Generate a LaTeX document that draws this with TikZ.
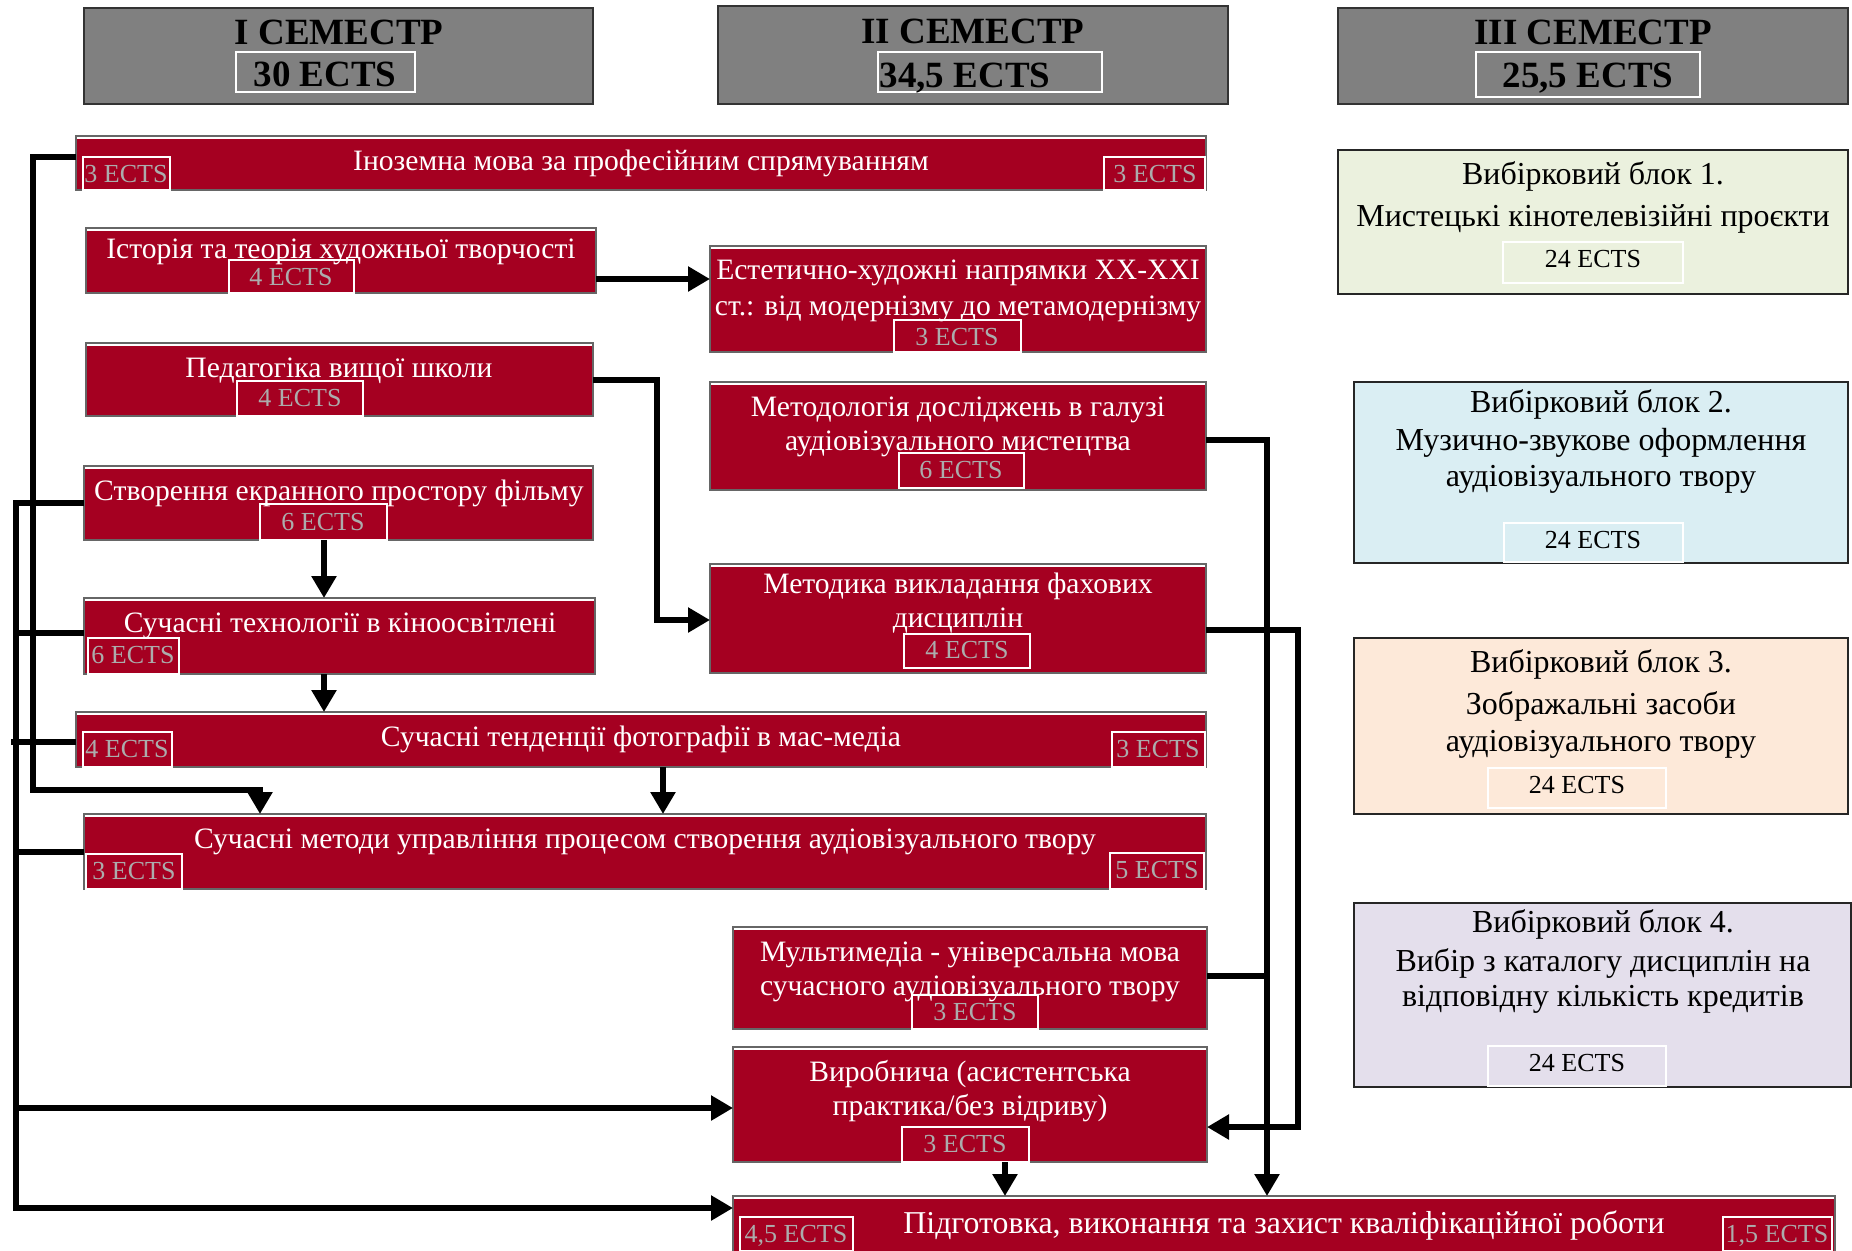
\documentclass[tikz,border=0pt]{standalone}
\usepackage{fontspec}
\setmainfont{Liberation Serif}
\usetikzlibrary{arrows.meta,fit}
\definecolor{bred}{RGB}{165,0,33}
\definecolor{hgray}{RGB}{128,128,128}
\definecolor{egray}{RGB}{172,172,172}
\definecolor{bgreen}{RGB}{235,241,222}
\definecolor{bblue}{RGB}{218,238,243}
\definecolor{bpeach}{RGB}{253,233,217}
\definecolor{blav}{RGB}{228,223,236}
\begin{document}
\begin{tikzpicture}[x=0.5pt,y=-0.5pt,
  redbox/.style={rectangle, draw=black!60, line width=0.6pt, fill=bred, inner sep=0pt, outer sep=0pt,
    path picture={\fill[white] (path picture bounding box.north west) rectangle ([yshift=-1.6pt]path picture bounding box.north east);}},
  hdrbox/.style={rectangle, draw=black!80, line width=0.6pt, fill=hgray, inner sep=0pt, outer sep=0pt},
  wbox/.style={rectangle, draw=white, line width=0.6pt, inner sep=0pt, outer sep=0pt},
  hdrtxt/.style={inner sep=0pt, font=\fontsize{18.5}{22}\selectfont\bfseries, text height=12.2pt, text depth=0pt},
  elect/.style={rectangle, draw=black!85, line width=0.6pt, inner sep=0pt, outer sep=0pt},
  etxt/.style={inner sep=0pt, font=\fontsize{16}{19}\selectfont, text height=9.6pt, text depth=0pt},
  eects/.style={inner sep=0pt, font=\fontsize{13}{15}\selectfont, text height=8.6pt, text depth=0pt},
  rtxt/.style={inner sep=0pt, text=white, font=\fontsize{14.8}{18}\selectfont, text height=11pt, text depth=0pt},
  ects/.style={inner sep=0pt, text=egray, font=\fontsize{13}{15}\selectfont, text height=8.6pt, text depth=0pt},
  conn/.style={line width=3pt, -{Triangle[length=11pt,width=12pt]}},
  link/.style={line width=3pt}
]
\useasboundingbox (0,0) rectangle (1852,1250);

% ---------- headers ----------
\node[hdrbox, fit={(84,8) (593,104)}] (h1) {};
\node[wbox, fit={(236,52) (415,92)}] (h1w) {};
\node[hdrtxt] (h1t) at (339,32) {I СЕМЕСТР};
\node[hdrtxt] (h1e) at (325,74) {30 ECTS};

\node[hdrbox, fit={(718,6) (1228,104)}] (h2) {};
\node[wbox, fit={(878,52) (1102,92)}] (h2w) {};
\node[hdrtxt] (h2t) at (973,31) {II СЕМЕСТР};
\node[hdrtxt] (h2e) at (965,75) {34,5 ECTS};

\node[hdrbox, fit={(1338,8) (1848,104)}] (h3) {};
\node[wbox, fit={(1476,52) (1700,97)}] (h3w) {};
\node[hdrtxt] (h3t) at (1593,32) {III СЕМЕСТР};
\node[hdrtxt] (h3e) at (1588,75) {25,5 ECTS};

% ---------- red boxes ----------
\node[redbox, fit={(76,136) (1206,190)}] (r1) {};
\node[rtxt] (r1t) at (641,159) {Іноземна мова за професійним спрямуванням};
\node[wbox, fit={(83,157) (170,190)}] (r1lw) {};
\node[ects] (r1l) at (126,174) {3 ECTS};
\node[wbox, fit={(1104,157) (1205,190)}] (r1rw) {};
\node[ects] (r1r) at (1155,174) {3 ECTS};

\node[redbox, fit={(86,228) (596,293)}] (r2) {};
\node[rtxt] (r2t) at (341,247) {Історія та теорія художньої творчості};
\node[wbox, fit={(229,260) (354,293)}] (r2w) {};
\node[ects] (r2e) at (291,277) {4 ECTS};

\node[redbox, fit={(710,246) (1206,352)}] (r3) {};
\node[rtxt] (r3a) at (958,268) {Естетично-художні напрямки XX-XXI};
\node[rtxt] (r3b) at (958,304) {ст.: від модернізму до метамодернізму};
\node[wbox, fit={(894,320) (1021,352)}] (r3w) {};
\node[ects] (r3e) at (957,337) {3 ECTS};

\node[redbox, fit={(86,343) (593,416)}] (r4) {};
\node[rtxt] (r4t) at (339,366) {Педагогіка вищої школи};
\node[wbox, fit={(237,381) (363,416)}] (r4w) {};
\node[ects] (r4e) at (300,398) {4 ECTS};

\node[redbox, fit={(710,382) (1206,490)}] (r5) {};
\node[rtxt] (r5a) at (958,405) {Методологія досліджень в галузі};
\node[rtxt] (r5b) at (958,439) {аудіовізуального мистецтва};
\node[wbox, fit={(899,453) (1024,488)}] (r5w) {};
\node[ects] (r5e) at (961,470) {6 ECTS};

\node[redbox, fit={(84,466) (593,540)}] (r6) {};
\node[rtxt] (r6t) at (339,489) {Створення екранного простору фільму};
\node[wbox, fit={(260,504) (387,540)}] (r6w) {};
\node[ects] (r6e) at (323,522) {6 ECTS};

\node[redbox, fit={(710,564) (1206,673)}] (r7) {};
\node[rtxt] (r7a) at (958,582) {Методика викладання фахових};
\node[rtxt] (r7b) at (958,616) {дисциплін};
\node[wbox, fit={(904,634) (1030,668)}] (r7w) {};
\node[ects] (r7e) at (967,650) {4 ECTS};

\node[redbox, fit={(84,598) (595,674)}] (r8) {};
\node[rtxt] (r8t) at (340,621) {Сучасні технології в кіноосвітлені};
\node[wbox, fit={(88,638) (179,674)}] (r8w) {};
\node[ects] (r8e) at (133,655) {6 ECTS};

\node[redbox, fit={(76,712) (1206,767)}] (r9) {};
\node[rtxt] (r9t) at (641,735) {Сучасні тенденції фотографії в мас-медіа};
\node[wbox, fit={(83,732) (172,767)}] (r9lw) {};
\node[ects] (r9l) at (127,749) {4 ECTS};
\node[wbox, fit={(1112,732) (1205,767)}] (r9rw) {};
\node[ects] (r9r) at (1158,749) {3 ECTS};

\node[redbox, fit={(84,814) (1206,889)}] (r10) {};
\node[rtxt] (r10t) at (645,837) {Сучасні методи управління процесом створення аудіовізуального твору};
\node[wbox, fit={(86,854) (182,889)}] (r10lw) {};
\node[ects] (r10l) at (134,871) {3 ECTS};
\node[wbox, fit={(1110,853) (1204,889)}] (r10rw) {};
\node[ects] (r10r) at (1157,870) {5 ECTS};

\node[redbox, fit={(733,927) (1207,1029)}] (r11) {};
\node[rtxt] (r11a) at (970,950) {Мультимедіа - універсальна мова};
\node[rtxt] (r11b) at (970,984) {сучасного аудіовізуального твору};
\node[wbox, fit={(912,995) (1038,1029)}] (r11w) {};
\node[ects] (r11e) at (975,1012) {3 ECTS};

\node[redbox, fit={(733,1047) (1207,1162)}] (r12) {};
\node[rtxt] (r12a) at (970,1070) {Виробнича (асистентська};
\node[rtxt] (r12b) at (970,1104) {практика/без відриву)};
\node[wbox, fit={(902,1127) (1029,1162)}] (r12w) {};
\node[ects] (r12e) at (965,1144) {3 ECTS};

\node[redbox, fit={(733,1196) (1835,1252)}] (r13) {};
\node[rtxt, font=\fontsize{15.9}{19}\selectfont, text height=11.6pt] (r13t) at (1284,1222) {Підготовка, виконання та захист кваліфікаційної роботи};
\node[wbox, fit={(740,1217) (853,1251)}] (r13lw) {};
\node[ects] (r13l) at (796,1234) {4,5 ECTS};
\node[wbox, fit={(1723,1217) (1832,1251)}] (r13rw) {};
\node[ects] (r13r) at (1777,1234) {1,5 ECTS};

% ---------- elective blocks ----------
\node[elect, fill=bgreen, fit={(1338,150) (1848,294)}] (b1) {};
\node[etxt] (b1a) at (1593,175) {Вибірковий блок 1.};
\node[etxt] (b1b) at (1593,217) {Мистецькі кінотелевізійні проєкти};
\node[wbox, fit={(1503,242) (1683,283)}] (b1w) {};
\node[eects] (b1e) at (1593,259) {24 ECTS};

\node[elect, fill=bblue, fit={(1354,382) (1848,563)}] (b2) {};
\node[etxt] (b2a) at (1601,403) {Вибірковий блок 2.};
\node[etxt] (b2b) at (1601,441) {Музично-звукове оформлення};
\node[etxt] (b2c) at (1601,477) {аудіовізуального твору};
\node[wbox, fit={(1504,523) (1683,562)}] (b2w) {};
\node[eects] (b2e) at (1593,540) {24 ECTS};

\node[elect, fill=bpeach, fit={(1354,638) (1848,814)}] (b3) {};
\node[etxt] (b3a) at (1601,663) {Вибірковий блок 3.};
\node[etxt] (b3b) at (1601,705) {Зображальні засоби};
\node[etxt] (b3c) at (1601,742) {аудіовізуального твору};
\node[wbox, fit={(1488,768) (1666,808)}] (b3w) {};
\node[eects] (b3e) at (1577,785) {24 ECTS};

\node[elect, fill=blav, fit={(1354,903) (1851,1087)}] (b4) {};
\node[etxt] (b4a) at (1603,923) {Вибірковий блок 4.};
\node[etxt] (b4b) at (1603,962) {Вибір з каталогу дисциплін на};
\node[etxt] (b4c) at (1603,997) {відповідну кількість кредитів};
\node[wbox, fit={(1488,1046) (1666,1086)}] (b4w) {};
\node[eects] (b4e) at (1577,1063) {24 ECTS};

% ---------- connectors ----------
% left line A
\draw[conn] (r1.west |- 0,157) -| (33,790) -| (r10.north -| 260,0);
% left line B
\draw[conn] (r6.west |- 0,503) -| (16,1208) -- (r13.west |- 0,1208);
\draw[conn] (16,1108) -- (r12.west |- 0,1108);
\draw[link] (16,633) -- (r8.west |- 0,633);
\draw[link] (11,742) -- (r9.west |- 0,742);
\draw[link] (16,852) -- (r10.west |- 0,852);
% vertical chain
\draw[conn] (r6.south -| 324,0) -- (r8.north -| 324,0);
\draw[conn] (r8.south -| 324,0) -- (r9.north -| 324,0);
\draw[conn] (r9.south -| 663,0) -- (r10.north -| 663,0);
% to second column
\draw[conn] (r2.east |- 0,279) -- (r3.west |- 0,279);
\draw[conn] (r4.east |- 0,380) -| (657,620) -- (r7.west |- 0,620);
% right side
\draw[conn] (r5.east |- 0,440) -| (r13.north -| 1267,0);
\draw[link] (r11.east |- 0,976) -- (1267,976);
\draw[conn] (r7.east |- 0,630) -| (1298,1127) -- (r12.east |- 0,1127);
\draw[conn] (r12.south -| 1005,0) -- (r13.north -| 1005,0);
\end{tikzpicture}
\end{document}
